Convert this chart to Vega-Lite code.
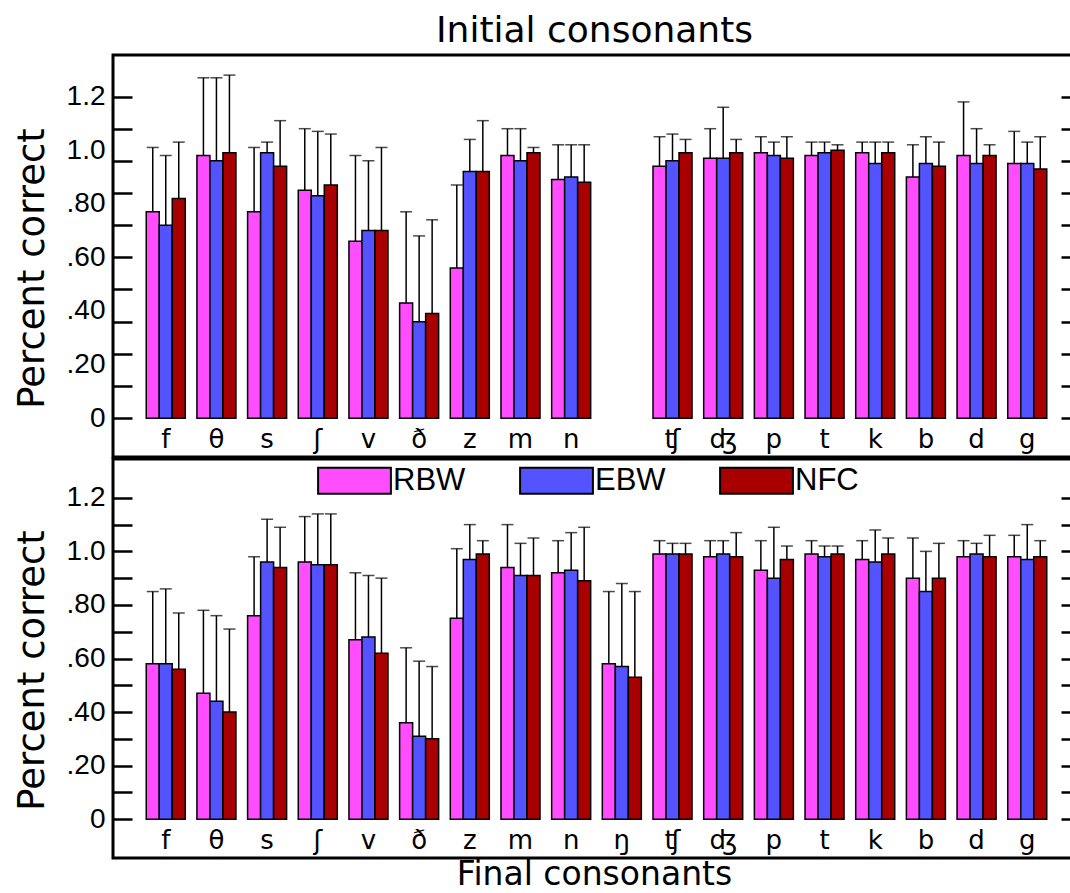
{
  "$schema": "https://vega.github.io/schema/vega-lite/v6.json",
  "padding": {"left": 11, "top": 10, "right": -12, "bottom": 0},
  "background": "white",
  "config": {
    "view": {"stroke": "black", "strokeWidth": 3},
    "font": "DejaVu Sans"
  },
  "spacing": -5,
  "resolve": {"scale": {"color": "independent"}},
  "datasets": {
    "initial": [
      {"cons": "f", "group": "RBW", "value": 0.77, "upper": 1.01},
      {"cons": "f", "group": "EBW", "value": 0.72, "upper": 0.98},
      {"cons": "f", "group": "NFC", "value": 0.82, "upper": 1.03},
      {"cons": "θ", "group": "RBW", "value": 0.98, "upper": 1.27},
      {"cons": "θ", "group": "EBW", "value": 0.96, "upper": 1.27},
      {"cons": "θ", "group": "NFC", "value": 0.99, "upper": 1.28},
      {"cons": "s", "group": "RBW", "value": 0.77, "upper": 1.01},
      {"cons": "s", "group": "EBW", "value": 0.99, "upper": 1.03},
      {"cons": "s", "group": "NFC", "value": 0.94, "upper": 1.11},
      {"cons": "ʃ", "group": "RBW", "value": 0.85, "upper": 1.08},
      {"cons": "ʃ", "group": "EBW", "value": 0.83, "upper": 1.07},
      {"cons": "ʃ", "group": "NFC", "value": 0.87, "upper": 1.06},
      {"cons": "v", "group": "RBW", "value": 0.66, "upper": 0.98},
      {"cons": "v", "group": "EBW", "value": 0.70, "upper": 0.96},
      {"cons": "v", "group": "NFC", "value": 0.70, "upper": 1.01},
      {"cons": "ð", "group": "RBW", "value": 0.43, "upper": 0.77},
      {"cons": "ð", "group": "EBW", "value": 0.36, "upper": 0.68},
      {"cons": "ð", "group": "NFC", "value": 0.39, "upper": 0.74},
      {"cons": "z", "group": "RBW", "value": 0.56, "upper": 0.87},
      {"cons": "z", "group": "EBW", "value": 0.92, "upper": 1.04},
      {"cons": "z", "group": "NFC", "value": 0.92, "upper": 1.11},
      {"cons": "m", "group": "RBW", "value": 0.98, "upper": 1.08},
      {"cons": "m", "group": "EBW", "value": 0.96, "upper": 1.08},
      {"cons": "m", "group": "NFC", "value": 0.99, "upper": 1.01},
      {"cons": "n", "group": "RBW", "value": 0.89, "upper": 1.02},
      {"cons": "n", "group": "EBW", "value": 0.90, "upper": 1.02},
      {"cons": "n", "group": "NFC", "value": 0.88, "upper": 1.02},
      {"cons": "ʧ", "group": "RBW", "value": 0.94, "upper": 1.05},
      {"cons": "ʧ", "group": "EBW", "value": 0.96, "upper": 1.06},
      {"cons": "ʧ", "group": "NFC", "value": 0.99, "upper": 1.04},
      {"cons": "ʤ", "group": "RBW", "value": 0.97, "upper": 1.08},
      {"cons": "ʤ", "group": "EBW", "value": 0.97, "upper": 1.16},
      {"cons": "ʤ", "group": "NFC", "value": 0.99, "upper": 1.04},
      {"cons": "p", "group": "RBW", "value": 0.99, "upper": 1.05},
      {"cons": "p", "group": "EBW", "value": 0.98, "upper": 1.03},
      {"cons": "p", "group": "NFC", "value": 0.97, "upper": 1.05},
      {"cons": "t", "group": "RBW", "value": 0.98, "upper": 1.03},
      {"cons": "t", "group": "EBW", "value": 0.99, "upper": 1.03},
      {"cons": "t", "group": "NFC", "value": 1.00, "upper": 1.02},
      {"cons": "k", "group": "RBW", "value": 0.99, "upper": 1.03},
      {"cons": "k", "group": "EBW", "value": 0.95, "upper": 1.03},
      {"cons": "k", "group": "NFC", "value": 0.99, "upper": 1.03},
      {"cons": "b", "group": "RBW", "value": 0.90, "upper": 1.02},
      {"cons": "b", "group": "EBW", "value": 0.95, "upper": 1.05},
      {"cons": "b", "group": "NFC", "value": 0.94, "upper": 1.03},
      {"cons": "d", "group": "RBW", "value": 0.98, "upper": 1.18},
      {"cons": "d", "group": "EBW", "value": 0.95, "upper": 1.08},
      {"cons": "d", "group": "NFC", "value": 0.98, "upper": 1.02},
      {"cons": "g", "group": "RBW", "value": 0.95, "upper": 1.07},
      {"cons": "g", "group": "EBW", "value": 0.95, "upper": 1.03},
      {"cons": "g", "group": "NFC", "value": 0.93, "upper": 1.05}
    ],
    "final": [
      {"cons": "f", "group": "RBW", "value": 0.58, "upper": 0.85},
      {"cons": "f", "group": "EBW", "value": 0.58, "upper": 0.86},
      {"cons": "f", "group": "NFC", "value": 0.56, "upper": 0.77},
      {"cons": "θ", "group": "RBW", "value": 0.47, "upper": 0.78},
      {"cons": "θ", "group": "EBW", "value": 0.44, "upper": 0.76},
      {"cons": "θ", "group": "NFC", "value": 0.40, "upper": 0.71},
      {"cons": "s", "group": "RBW", "value": 0.76, "upper": 0.98},
      {"cons": "s", "group": "EBW", "value": 0.96, "upper": 1.12},
      {"cons": "s", "group": "NFC", "value": 0.94, "upper": 1.09},
      {"cons": "ʃ", "group": "RBW", "value": 0.96, "upper": 1.13},
      {"cons": "ʃ", "group": "EBW", "value": 0.95, "upper": 1.14},
      {"cons": "ʃ", "group": "NFC", "value": 0.95, "upper": 1.14},
      {"cons": "v", "group": "RBW", "value": 0.67, "upper": 0.92},
      {"cons": "v", "group": "EBW", "value": 0.68, "upper": 0.91},
      {"cons": "v", "group": "NFC", "value": 0.62, "upper": 0.90},
      {"cons": "ð", "group": "RBW", "value": 0.36, "upper": 0.64},
      {"cons": "ð", "group": "EBW", "value": 0.31, "upper": 0.59},
      {"cons": "ð", "group": "NFC", "value": 0.30, "upper": 0.57},
      {"cons": "z", "group": "RBW", "value": 0.75, "upper": 1.01},
      {"cons": "z", "group": "EBW", "value": 0.97, "upper": 1.10},
      {"cons": "z", "group": "NFC", "value": 0.99, "upper": 1.04},
      {"cons": "m", "group": "RBW", "value": 0.94, "upper": 1.10},
      {"cons": "m", "group": "EBW", "value": 0.91, "upper": 1.03},
      {"cons": "m", "group": "NFC", "value": 0.91, "upper": 1.05},
      {"cons": "n", "group": "RBW", "value": 0.92, "upper": 1.04},
      {"cons": "n", "group": "EBW", "value": 0.93, "upper": 1.07},
      {"cons": "n", "group": "NFC", "value": 0.89, "upper": 1.09},
      {"cons": "ŋ", "group": "RBW", "value": 0.58, "upper": 0.85},
      {"cons": "ŋ", "group": "EBW", "value": 0.57, "upper": 0.88},
      {"cons": "ŋ", "group": "NFC", "value": 0.53, "upper": 0.85},
      {"cons": "ʧ", "group": "RBW", "value": 0.99, "upper": 1.04},
      {"cons": "ʧ", "group": "EBW", "value": 0.99, "upper": 1.03},
      {"cons": "ʧ", "group": "NFC", "value": 0.99, "upper": 1.03},
      {"cons": "ʤ", "group": "RBW", "value": 0.98, "upper": 1.04},
      {"cons": "ʤ", "group": "EBW", "value": 0.99, "upper": 1.04},
      {"cons": "ʤ", "group": "NFC", "value": 0.98, "upper": 1.07},
      {"cons": "p", "group": "RBW", "value": 0.93, "upper": 1.04},
      {"cons": "p", "group": "EBW", "value": 0.90, "upper": 1.09},
      {"cons": "p", "group": "NFC", "value": 0.97, "upper": 1.02},
      {"cons": "t", "group": "RBW", "value": 0.99, "upper": 1.04},
      {"cons": "t", "group": "EBW", "value": 0.98, "upper": 1.02},
      {"cons": "t", "group": "NFC", "value": 0.99, "upper": 1.02},
      {"cons": "k", "group": "RBW", "value": 0.97, "upper": 1.04},
      {"cons": "k", "group": "EBW", "value": 0.96, "upper": 1.08},
      {"cons": "k", "group": "NFC", "value": 0.99, "upper": 1.05},
      {"cons": "b", "group": "RBW", "value": 0.90, "upper": 1.05},
      {"cons": "b", "group": "EBW", "value": 0.85, "upper": 1.00},
      {"cons": "b", "group": "NFC", "value": 0.90, "upper": 1.03},
      {"cons": "d", "group": "RBW", "value": 0.98, "upper": 1.04},
      {"cons": "d", "group": "EBW", "value": 0.99, "upper": 1.03},
      {"cons": "d", "group": "NFC", "value": 0.98, "upper": 1.06},
      {"cons": "g", "group": "RBW", "value": 0.98, "upper": 1.06},
      {"cons": "g", "group": "EBW", "value": 0.97, "upper": 1.10},
      {"cons": "g", "group": "NFC", "value": 0.98, "upper": 1.04}
    ]
  },
  "vconcat": [
    {
      "width": 967,
      "height": 402,
      "data": {"name": "initial"},
      "encoding": {
        "x": {
          "field": "cons", "type": "nominal",
          "scale": {"domain": ["f","θ","s","ʃ","v","ð","z","m","n","ŋ","ʧ","ʤ","p","t","k","b","d","g"], "paddingInner": 0.23, "paddingOuter": 0.656},
          "axis": {"orient": "bottom", "offset": -39, "domain": false, "ticks": false, "tickSize": 0, "labelPadding": 29, "labelBaseline": "alphabetic", "labelFont": "DejaVu Sans", "labelFontSize": 26, "labelAngle": 0, "labelColor": "black", "labelExpr": "datum.value == 'ŋ' ? '' : datum.value",
            "title": "Initial consonants", "titleFont": "DejaVu Sans", "titleFontSize": 36, "titleFontWeight": "normal", "titleColor": "black", "titleBaseline": "alphabetic", "titleAlign": "center", "titleX": 481, "titleY": -377}
        },
        "xOffset": {"field": "group", "type": "nominal", "scale": {"domain": ["RBW","EBW","NFC"], "paddingInner": 0, "paddingOuter": 0}}
      },
      "layer": [
        {
          "mark": {"type": "bar", "stroke": "black", "strokeWidth": 1.5},
          "encoding": {
            "y": {"field": "value", "type": "quantitative", "stack": null,
              "scale": {"domain": [-0.145, 1.355], "nice": false, "zero": false},
              "axis": {"orient": "left", "values": [0, 0.2, 0.4, 0.6, 0.8, 1, 1.2], "ticks": false, "tickSize": 0, "domain": false, "grid": false, "offset": -19, "labelPadding": 27, "labelFont": "Liberation Sans", "labelFontSize": 28, "labelColor": "black",
                "labelExpr": "datum.value == 0 ? '0' : (datum.value >= 1 ? format(datum.value, '.1f') : replace(format(datum.value, '.2f'), '0.', '.'))",
                "title": "Percent correct", "titleFont": "DejaVu Sans", "titleFontSize": 37, "titleFontWeight": "normal", "titleColor": "black", "titleBaseline": "alphabetic", "titleAlign": "center", "titleAngle": -90, "titleX": -89, "titleY": 213}
            },
            "y2": {"datum": 0},
            "color": {"field": "group", "type": "nominal", "scale": {"domain": ["RBW","EBW","NFC"], "range": ["#ff4dff", "#5353ff", "#a80000"]}, "legend": null}
          }
        },
        {
          "mark": {"type": "rule", "color": "black", "strokeWidth": 1.5},
          "encoding": {
            "y": {"field": "value", "type": "quantitative",
              "axis": {"orient": "left", "values": [0, 0.12, 0.24, 0.36, 0.48, 0.6, 0.72, 0.84, 0.96, 1.08, 1.2], "labels": false, "domain": false, "grid": false, "ticks": true, "tickSize": 19, "tickWidth": 2.5, "tickColor": "black", "offset": -19, "title": null}
            },
            "y2": {"field": "upper"}
          }
        },
        {
          "mark": {"type": "tick", "color": "black", "thickness": 1.5, "size": 12},
          "encoding": {
            "y": {"field": "upper", "type": "quantitative",
              "axis": {"orient": "right", "values": [0, 0.12, 0.24, 0.36, 0.48, 0.6, 0.72, 0.84, 0.96, 1.08, 1.2], "labels": false, "domain": false, "grid": false, "ticks": true, "tickSize": 19, "tickWidth": 2.5, "tickColor": "black", "offset": -19, "title": null}
            }
          }
        }
      ],
      "resolve": {"axis": {"y": "independent"}}
    },
    {
      "width": 967,
      "height": 399,
      "data": {"name": "final"},
      "encoding": {
        "x": {
          "field": "cons", "type": "nominal",
          "scale": {"domain": ["f","θ","s","ʃ","v","ð","z","m","n","ŋ","ʧ","ʤ","p","t","k","b","d","g"], "paddingInner": 0.23, "paddingOuter": 0.656},
          "axis": {"orient": "bottom", "offset": -39, "domain": false, "ticks": false, "tickSize": 0, "labelPadding": 29, "labelBaseline": "alphabetic", "labelFont": "DejaVu Sans", "labelFontSize": 26, "labelAngle": 0, "labelColor": "black",
            "title": "Final consonants", "titleFont": "DejaVu Sans", "titleFontSize": 33, "titleFontWeight": "normal", "titleColor": "black", "titleBaseline": "alphabetic", "titleAlign": "center", "titleX": 481, "titleY": 65}
        },
        "xOffset": {"field": "group", "type": "nominal", "scale": {"domain": ["RBW","EBW","NFC"], "paddingInner": 0, "paddingOuter": 0}}
      },
      "layer": [
        {
          "mark": {"type": "bar", "stroke": "black", "strokeWidth": 1.5},
          "encoding": {
            "y": {"field": "value", "type": "quantitative", "stack": null,
              "scale": {"domain": [-0.145, 1.345], "nice": false, "zero": false},
              "axis": {"orient": "left", "values": [0, 0.1, 0.2, 0.3, 0.4, 0.5, 0.6, 0.7, 0.8, 0.9, 1, 1.1, 1.2], "ticks": true, "tickSize": 19, "tickWidth": 2.5, "tickColor": "black", "domain": false, "grid": false, "offset": -19, "labelPadding": 8, "labelFont": "Liberation Sans", "labelFontSize": 28, "labelColor": "black",
                "labelExpr": "round(datum.value * 10) % 2 == 1 ? '' : (datum.value == 0 ? '0' : (datum.value >= 1 ? format(datum.value, '.1f') : replace(format(datum.value, '.2f'), '0.', '.')))",
                "title": "Percent correct", "titleFont": "DejaVu Sans", "titleFontSize": 37, "titleFontWeight": "normal", "titleColor": "black", "titleBaseline": "alphabetic", "titleAlign": "center", "titleAngle": -90, "titleX": -89, "titleY": 211}
            },
            "y2": {"datum": 0},
            "color": {"field": "group", "type": "nominal", "scale": {"domain": ["RBW","EBW","NFC"], "range": ["#ff4dff", "#5353ff", "#a80000"]},
              "legend": {"orient": "none", "legendX": 226, "legendY": 6, "direction": "horizontal", "title": null, "symbolType": "M-2.8,-1H2.8V1H-2.8Z", "symbolSize": 676, "symbolStrokeColor": "black", "symbolStrokeWidth": 2, "symbolOpacity": 1, "labelFont": "Liberation Sans", "labelFontSize": 31, "labelColor": "black", "labelOffset": 23, "columnPadding": 50, "padding": 0, "labelLimit": 300}
            }
          }
        },
        {
          "mark": {"type": "rule", "color": "black", "strokeWidth": 1.5},
          "encoding": {
            "y": {"field": "value", "type": "quantitative",
              "axis": {"orient": "right", "values": [0, 0.1, 0.2, 0.3, 0.4, 0.5, 0.6, 0.7, 0.8, 0.9, 1, 1.1, 1.2], "labels": false, "domain": false, "grid": false, "ticks": true, "tickSize": 19, "tickWidth": 2.5, "tickColor": "black", "offset": -19, "title": null}
            },
            "y2": {"field": "upper"}
          }
        },
        {
          "mark": {"type": "tick", "color": "black", "thickness": 1.5, "size": 12},
          "encoding": {
            "y": {"field": "upper", "type": "quantitative", "axis": null}
          }
        }
      ],
      "resolve": {"axis": {"y": "independent"}}
    }
  ]
}
